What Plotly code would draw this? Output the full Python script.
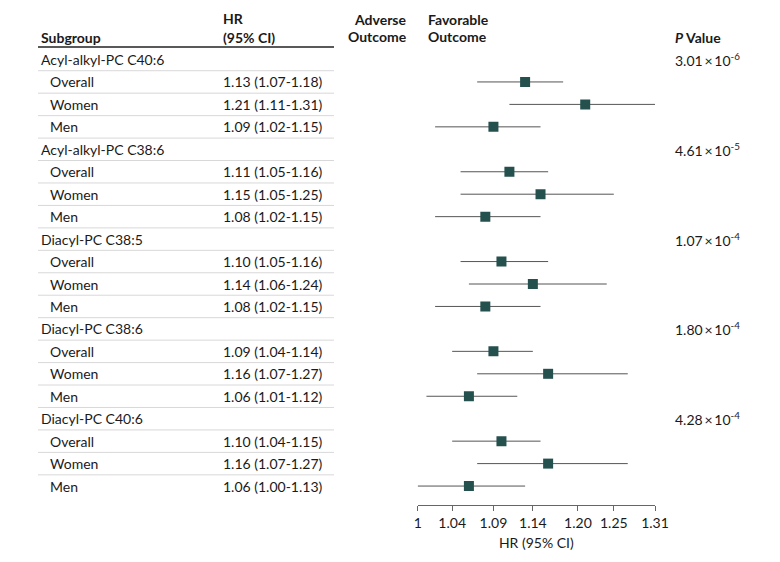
import math
import plotly.graph_objects as go

groups = ["Acyl-alkyl-PC C40:6", "Acyl-alkyl-PC C38:6", "Diacyl-PC C38:5",
          "Diacyl-PC C38:6", "Diacyl-PC C40:6"]
p_values = ["3.01\u2009×\u200910<sup>-6</sup>", "4.61\u2009×\u200910<sup>-5</sup>",
            "1.07\u2009×\u200910<sup>-4</sup>", "1.80\u2009×\u200910<sup>-4</sup>",
            "4.28\u2009×\u200910<sup>-4</sup>"]
subgroups = ["Overall", "Women", "Men"]
hr = [1.13, 1.21, 1.09,
      1.11, 1.15, 1.08,
      1.10, 1.14, 1.08,
      1.09, 1.16, 1.06,
      1.10, 1.16, 1.06]
lo = [1.07, 1.11, 1.02,
      1.05, 1.05, 1.02,
      1.05, 1.06, 1.02,
      1.04, 1.07, 1.01,
      1.04, 1.07, 1.00]
hi = [1.18, 1.31, 1.15,
      1.16, 1.25, 1.15,
      1.16, 1.24, 1.15,
      1.14, 1.27, 1.12,
      1.15, 1.27, 1.13]
tick_vals = [1, 1.04, 1.09, 1.14, 1.20, 1.25, 1.31]
tick_text = ["1", "1.04", "1.09", "1.14", "1.20", "1.25", "1.31"]

W, H = 780, 562
FONT = "Lato"
FS = 14
TXT = "#1a1a1a"

rows_y = []
for g in range(len(groups)):
    for s in range(3):
        rows_y.append(g * 4 + 1 + s)

n_rows = len(groups) * 4
row_px0, row_step = 59.5, 22.45
top_px, bottom_px = 13, 505
y_top = (top_px - row_px0) / row_step
y_bot = (bottom_px - row_px0) / row_step

x_left_px, x_right_px = 417.7, 655.0

fig = go.Figure()
fig.add_trace(go.Scatter(
    x=hr, y=rows_y, mode="markers",
    marker=dict(symbol="square", size=10, color="#24504e"),
    error_x=dict(type="data", symmetric=False,
                 array=[h - m for h, m in zip(hi, hr)],
                 arrayminus=[m - l for m, l in zip(hr, lo)],
                 thickness=1, width=0, color="#555555"),
    hoverinfo="skip", showlegend=False,
))

def px(x):
    return x / W

def row_of(ypx):
    return (ypx - row_px0) / row_step

ann = []
def add_text(x, y, text, anchor="left", bold=False, size=FS):
    ann.append(dict(x=px(x), y=y, xref="paper", yref="y", text=text,
                    showarrow=False, xanchor=anchor, yanchor="middle",
                    align=anchor, borderpad=0,
                    font=dict(family=FONT, size=size, color=TXT,
                              weight="bold" if bold else "normal")))

# headers
add_text(40, row_of(38), "Subgroup", bold=True)
add_text(222, row_of(19), "HR", bold=True)
add_text(222, row_of(38), "(95% CI)", bold=True)
add_text(408, row_of(20), "Adverse", anchor="right", bold=True)
add_text(408, row_of(37), "Outcome", anchor="right", bold=True)
add_text(427, row_of(20), "Favorable", bold=True)
add_text(427, row_of(37), "Outcome", bold=True)
add_text(674, row_of(38), "<i>P</i> Value", bold=True)

k = 0
for g, name in enumerate(groups):
    gy = g * 4
    add_text(40, gy, name)
    add_text(674, gy, p_values[g])
    for s, sname in enumerate(subgroups):
        y = gy + 1 + s
        add_text(49, y, sname)
        add_text(222, y, f"{hr[k]:.2f} ({lo[k]:.2f}-{hi[k]:.2f})")
        k += 1

shapes = []
shapes.append(dict(type="line", xref="paper", yref="y", x0=px(38), x1=px(334),
                   y0=row_of(47), y1=row_of(47), line=dict(color="#222", width=1.5)))
for i in range(n_rows - 1):
    shapes.append(dict(type="line", xref="paper", yref="y", x0=px(38), x1=px(334),
                       y0=i + 0.5, y1=i + 0.5, line=dict(color="#d8d8d8", width=1)))
shapes.append(dict(type="line", xref="x", yref="y", x0=0, x1=0,
                   y0=y_top, y1=y_bot, line=dict(color="#777", width=1, dash="dot")))

fig.update_layout(
    width=W, height=H, margin=dict(l=0, r=0, t=0, b=0, autoexpand=False),
    paper_bgcolor="white", plot_bgcolor="white",
    annotations=ann, shapes=shapes,
    font=dict(family=FONT, size=FS, color=TXT),
    xaxis=dict(type="log", range=[0, math.log10(1.31)],
               domain=[x_left_px / W, x_right_px / W],
               tickvals=tick_vals, ticktext=tick_text,
               ticks="outside", ticklen=5, tickcolor="#666",
               showline=True, linecolor="#666", linewidth=1,
               showgrid=False, zeroline=False,
               tickfont=dict(family=FONT, size=FS, color=TXT),
               title=dict(text="HR (95% CI)", standoff=8,
                          font=dict(family=FONT, size=FS, color=TXT))),
    yaxis=dict(range=[y_bot, y_top],
               domain=[1 - bottom_px / H, 1 - top_px / H],
               showticklabels=False, showgrid=False, zeroline=False,
               showline=False, ticks=""),
)

fig.write_html("out.html", config={"displayModeBar": False},
               post_script="document.body.style.margin='0';")
